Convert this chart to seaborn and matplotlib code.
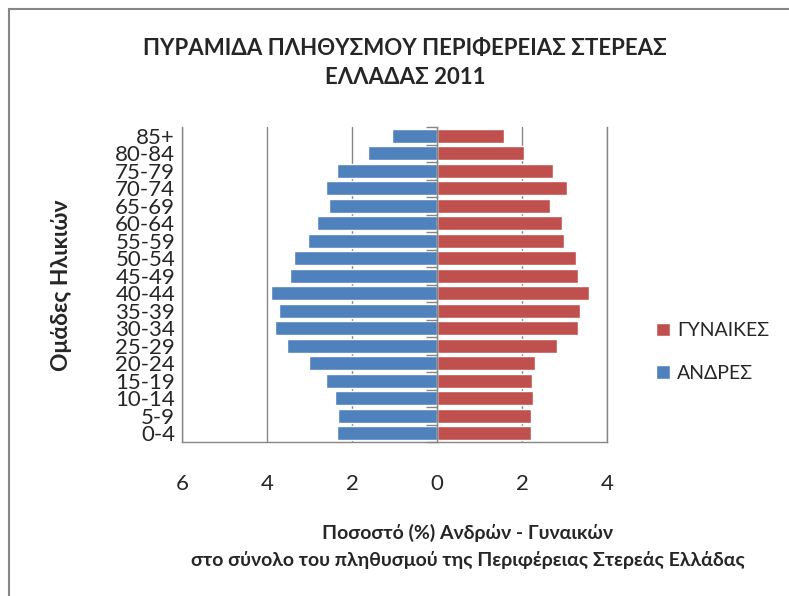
import matplotlib
matplotlib.use('Agg')
import matplotlib.pyplot as plt
from matplotlib.patches import Rectangle
import seaborn as sns
import pandas as pd
import numpy as np

# age groups, top of the pyramid first
age_groups = ['85+', '80-84', '75-79', '70-74', '65-69', '60-64', '55-59', '50-54', '45-49',
              '40-44', '35-39', '30-34', '25-29', '20-24', '15-19', '10-14', '5-9', '0-4']
men = [1.06, 1.63, 2.35, 2.62, 2.53, 2.83, 3.03, 3.37, 3.46,
       3.91, 3.72, 3.82, 3.52, 3.01, 2.62, 2.40, 2.32, 2.35]
women = [1.57, 2.05, 2.74, 3.07, 2.65, 2.95, 2.98, 3.26, 3.31,
         3.58, 3.37, 3.31, 2.83, 2.30, 2.23, 2.26, 2.20, 2.20]
x_ticks = [-6, -4, -2, 0, 2, 4]

title_lines = ['ΠΥΡΑΜΙΔΑ ΠΛΗΘΥΣΜΟΥ ΠΕΡΙΦΕΡΕΙΑΣ ΣΤΕΡΕΑΣ', 'ΕΛΛΑΔΑΣ 2011']
xlabel_lines = ['Ποσοστό (%) Ανδρών - Γυναικών',
                'στο σύνολο του πληθυσμού της Περιφέρειας Στερεάς Ελλάδας']
ylabel = 'Ομάδες Ηλικιών'
label_women = 'ΓΥΝΑΙΚΕΣ'
label_men = 'ΑΝΔΡΕΣ'

BLUE = '#4F81BD'
RED = '#C0504D'
GRAY = '#868686'

sns.set_style('white')
plt.rcParams['font.family'] = ['Lato', 'Open Sans', 'DejaVu Sans']

df = pd.DataFrame({'age': age_groups, 'men': men, 'women': women})
df['men_left'] = -df['men']

W, H = 789, 596
fig = plt.figure(figsize=(W / 100, H / 100), dpi=100)
ax = fig.add_axes([182 / W, 1 - 442 / H, 425 / W, 315 / H])

sns.barplot(data=df, x='women', y='age', order=age_groups, color=RED, saturation=1,
            width=0.8, errorbar=None, label=label_women, ax=ax)
sns.barplot(data=df, x='men_left', y='age', order=age_groups, color=BLUE, saturation=1,
            width=0.8, errorbar=None, label=label_men, ax=ax)

ax.set_xlim(x_ticks[0], x_ticks[-1])
ax.set_ylim(len(age_groups) - 0.5, -0.5)
ax.set_xticks(x_ticks)
ax.set_xticklabels([str(abs(t)) for t in x_ticks])
ax.set_xlabel('')
ax.set_ylabel('')

ax.tick_params(axis='x', length=9, width=1, color=GRAY, pad=14, labelsize=16)
ax.tick_params(axis='y', length=0, pad=5, labelsize=16)
ax.grid(axis='x', color=GRAY, lw=1)
ax.set_axisbelow(True)
ax.spines['top'].set_visible(False)
for s in ['left', 'bottom', 'right']:
    ax.spines[s].set_color(GRAY)
    ax.spines[s].set_linewidth(1)

# vertical axis at zero with ticks between the age groups
zero_pos = (0 - x_ticks[0]) / (x_ticks[-1] - x_ticks[0])
sec = ax.secondary_yaxis(zero_pos)
sec.set_zorder(5)
sec.set_yticks(np.arange(len(age_groups) + 1) - 0.5)
sec.set_yticklabels([])
sec.tick_params(length=8, width=1, color=GRAY, direction='in')
for s in sec.spines.values():
    s.set_color(GRAY)
    s.set_linewidth(1)

ax.legend(loc='center left', bbox_to_anchor=(656 / W, 1 - 352 / H), bbox_transform=fig.transFigure,
          frameon=False, fontsize=14, handlelength=0.7, handleheight=0.7, handletextpad=0.4,
          labelspacing=1.3, borderpad=0, borderaxespad=0)

fig.text(405 / W, 1 - 48 / H, title_lines[0], ha='center', va='center', fontsize=16, fontweight='bold')
fig.text(405 / W, 1 - 78 / H, title_lines[1], ha='center', va='center', fontsize=16, fontweight='bold')
fig.text(61 / W, 1 - 285 / H, ylabel, ha='center', va='center', rotation=90, fontsize=16.5, fontweight='bold')
fig.text(467 / W, 1 - 533 / H, xlabel_lines[0], ha='center', va='center', fontsize=14, fontweight='bold')
fig.text(468 / W, 1 - 560 / H, xlabel_lines[1], ha='center', va='center', fontsize=14, fontweight='bold')

# chart area border
fig.add_artist(Rectangle((9 / W, -0.1), 1.2, 1 - 9 / H + 0.1, transform=fig.transFigure,
                         fill=False, edgecolor=GRAY, lw=1.5))

fig.savefig('out.png', dpi=100)
